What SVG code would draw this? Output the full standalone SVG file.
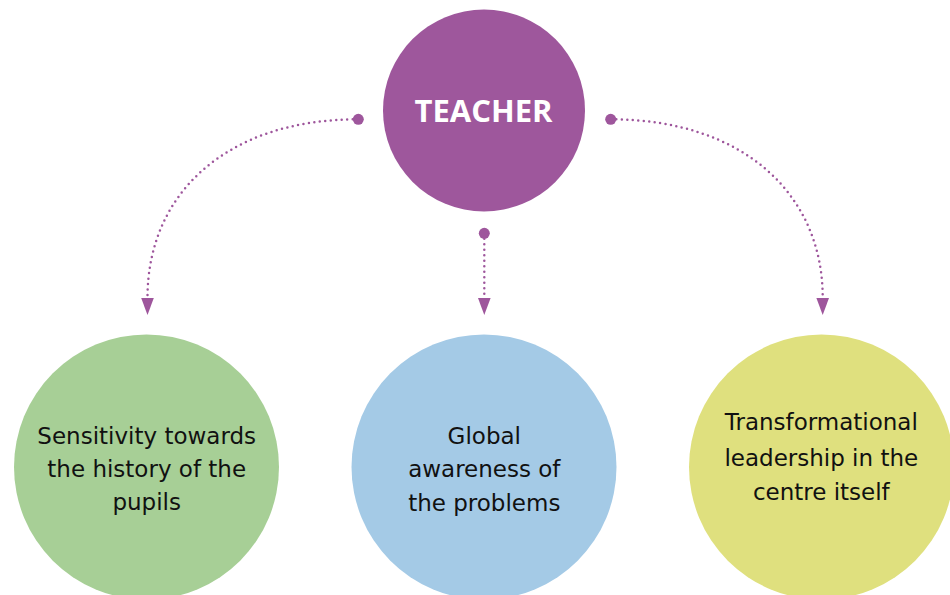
<svg xmlns="http://www.w3.org/2000/svg" width="950" height="595" viewBox="0 0 950 595">
  <style>
    .lbl { font-family: "DejaVu Sans", "Liberation Sans", sans-serif; font-size: 23px; fill: #111111; text-anchor: middle; }
    .title { font-family: "Open Sans", "Liberation Sans", sans-serif; font-size: 31px; font-weight: bold; fill: #ffffff; text-anchor: middle; }
    .conn { fill: none; stroke: #9e569c; stroke-width: 2.5; stroke-linecap: round; stroke-dasharray: 0 5.5; marker-start: url(#dot); marker-end: url(#arrow); }
  </style>
  <defs>
    <marker id="arrow" markerUnits="userSpaceOnUse" markerWidth="20" markerHeight="16" viewBox="0 -8 20 16" refX="0" refY="0" orient="auto">
      <path d="M0,-6.5 L17.5,0 L0,6.5 Z" fill="#9e569c"/>
    </marker>
    <marker id="dot" markerUnits="userSpaceOnUse" markerWidth="14" markerHeight="14" viewBox="-7 -7 14 14" refX="0" refY="0" orient="auto">
      <circle cx="0" cy="0" r="5.5" fill="#9e569c"/>
    </marker>
  </defs>
  <rect width="950" height="595" fill="#ffffff"/>

  <g id="connectors">
    <path class="conn" d="M358.3,119.3 C225,119.3 147.5,195 147.5,297.5"/>
    <path class="conn" d="M484.3,233.3 L484.3,297.5"/>
    <path class="conn" d="M610.7,119.3 C744,119.3 822.7,195 822.7,297.5"/>
  </g>

  <g id="teacher">
    <circle cx="484" cy="110.5" r="101" fill="#9e579c"/>
    <text class="title" x="483.5" y="122">TEACHER</text>
  </g>

  <g id="sensitivity">
    <circle cx="146.5" cy="467" r="132.5" fill="#a7cf96"/>
    <text class="lbl" x="146.7" y="443.5">Sensitivity towards</text>
    <text class="lbl" x="146.7" y="476.7">the history of the</text>
    <text class="lbl" x="146.7" y="510">pupils</text>
  </g>

  <g id="global">
    <circle cx="484" cy="467" r="132.5" fill="#a4cae6"/>
    <text class="lbl" x="484.3" y="444">Global</text>
    <text class="lbl" x="484.3" y="477">awareness of</text>
    <text class="lbl" x="484.3" y="511">the problems</text>
  </g>

  <g id="transformational">
    <circle cx="821.5" cy="467" r="132.5" fill="#dfe07e"/>
    <text class="lbl" x="821.3" y="430">Transformational</text>
    <text class="lbl" x="821.3" y="465.5">leadership in the</text>
    <text class="lbl" x="821.3" y="500">centre itself</text>
  </g>
</svg>
